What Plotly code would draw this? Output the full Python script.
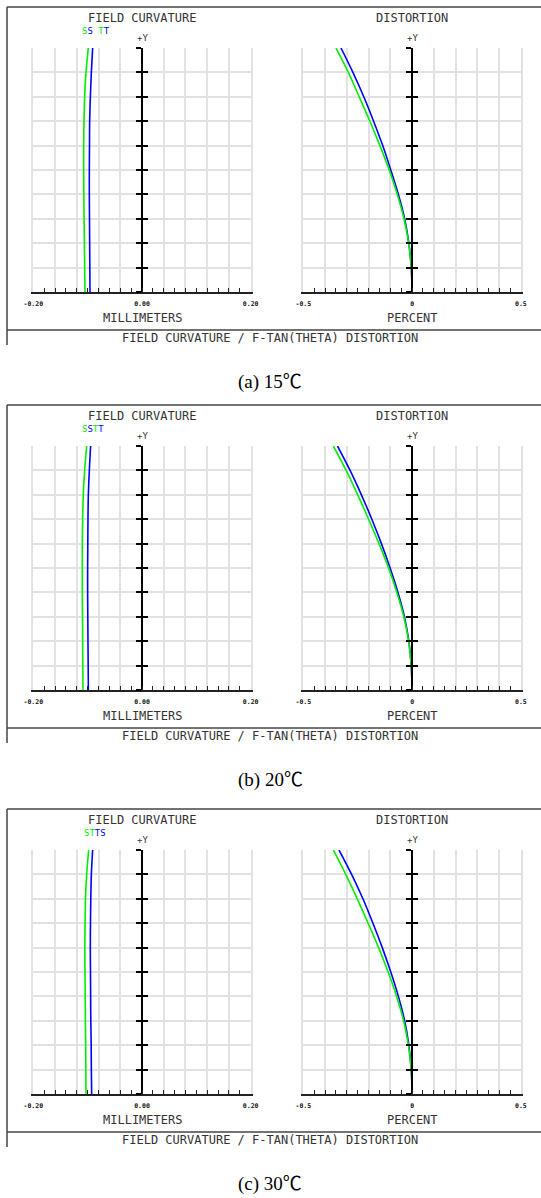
import plotly.graph_objects as go

W, H = 541, 1198

# ---------------- data ----------------
field = [0.0, 0.1, 0.2, 0.3, 0.4, 0.5, 0.6, 0.7, 0.8, 0.9, 1.0]  # relative +Y field

captions = ["(a) 15℃", "(b) 20℃", "(c) 30℃"]

# field curvature (mm): green and blue curves
fc_green_a = [-0.1049, -0.1055, -0.1060, -0.1066, -0.1070, -0.1073, -0.1073, -0.1067, -0.1055, -0.1030, -0.0988]
fc_blue_a = [-0.0957, -0.0960, -0.0963, -0.0966, -0.0969, -0.0969, -0.0966, -0.0963, -0.0950, -0.0932, -0.0908]
fc_green_b = [-0.1086, -0.1089, -0.1092, -0.1095, -0.1098, -0.1098, -0.1098, -0.1092, -0.1080, -0.1055, -0.1018]
fc_blue_b = [-0.0987, -0.0990, -0.0994, -0.0997, -0.1000, -0.1000, -0.0997, -0.0994, -0.0987, -0.0969, -0.0945]
fc_green_c = [-0.1030, -0.1033, -0.1036, -0.1042, -0.1045, -0.1049, -0.1052, -0.1047, -0.1040, -0.1018, -0.0981]
fc_blue_c = [-0.0926, -0.0932, -0.0935, -0.0942, -0.0945, -0.0948, -0.0951, -0.0948, -0.0942, -0.0932, -0.0908]

# f-tan(theta) distortion (%)
dist_green_a = [0, -0.004, -0.016, -0.037, -0.068, -0.105, -0.148, -0.194, -0.243, -0.293, -0.350]
dist_blue_a = [0, -0.004, -0.015, -0.034, -0.063, -0.098, -0.135, -0.177, -0.222, -0.272, -0.327]
dist_green_b = [0, -0.004, -0.016, -0.038, -0.070, -0.108, -0.152, -0.200, -0.250, -0.303, -0.362]
dist_blue_b = [0, -0.004, -0.015, -0.035, -0.065, -0.101, -0.141, -0.185, -0.233, -0.285, -0.343]
dist_green_c = [0, -0.004, -0.017, -0.039, -0.071, -0.110, -0.154, -0.202, -0.252, -0.305, -0.362]
dist_blue_c = [0, -0.004, -0.015, -0.034, -0.063, -0.098, -0.137, -0.180, -0.226, -0.278, -0.336]

fc_ticks = [round(-0.20 + 0.02 * i, 2) for i in range(21)]
fc_ticklabels = {-0.20: "-0.20", 0.0: "0.00", 0.20: "0.20"}
dist_ticks = [round(-0.5 + 0.05 * i, 2) for i in range(21)]
dist_ticklabels = {-0.5: "-0.5", 0.0: "0", 0.5: "0.5"}

fc_sets = [(fc_green_a, fc_blue_a), (fc_green_b, fc_blue_b), (fc_green_c, fc_blue_c)]
dist_sets = [(dist_green_a, dist_blue_a), (dist_green_b, dist_blue_b), (dist_green_c, dist_blue_c)]

GREEN = "#00ee00"
BLUE = "#0000ff"

# legend glyphs per panel: (letter, colour)
legend_glyphs = [
    [("S", GREEN), ("S", BLUE), (" ", GREEN), ("T", GREEN), ("T", BLUE)],
    [("S", GREEN), ("S", BLUE), ("T", GREEN), ("T", BLUE)],
    [("S", GREEN), ("T", GREEN), ("T", BLUE), ("S", BLUE)],
]
legend_x = [96, 93, 95]

GRID = "#e2e2e2"
TXT = "#333333"
MONO = "DejaVu Sans Mono"

offsets = [0, 398, 802]


def px(x):
    return x / W


def py(y):
    return 1 - y / H


fig = go.Figure()
layout = {}
annotations = []
shapes = []

ax_n = 0
extra_y = 6  # extra overlay y axes numbered after the 6 main ones

for p, off in enumerate(offsets):
    for kind in ("fc", "dist"):
        ax_n += 1
        xa = "x" if ax_n == 1 else f"x{ax_n}"
        ya = "y" if ax_n == 1 else f"y{ax_n}"
        xkey = "xaxis" if ax_n == 1 else f"xaxis{ax_n}"
        ykey = "yaxis" if ax_n == 1 else f"yaxis{ax_n}"
        if kind == "fc":
            x0, x1 = 33.3, 250.7
            rng = [-0.2, 0.2]
            gd = 0.04
            ticks, tlab = fc_ticks, fc_ticklabels
            green, blue = fc_sets[p]
        else:
            x0, x1 = 303.3, 520.9
            rng = [-0.5, 0.5]
            gd = 0.1
            ticks, tlab = dist_ticks, dist_ticklabels
            green, blue = dist_sets[p]
        ytop, ybot = 48 + off, 292 + off
        dom_x = [px(x0), px(x1)]
        dom_y = [py(ybot), py(ytop)]

        layout[xkey] = dict(
            domain=dom_x, range=rng, anchor=ya, automargin=False,
            showgrid=False,
            minor=dict(dtick=gd, tick0=rng[0], showgrid=True, gridcolor=GRID, gridwidth=1.5, ticks=""),
            tickmode="array", tickvals=ticks,
            ticktext=[tlab.get(t, "") for t in ticks],
            ticks="inside", ticklen=4, tickcolor="#222", tickwidth=1,
            showline=True, linecolor="#222", linewidth=1.5,
            zeroline=False,
            tickfont=dict(family=MONO, size=6.5, color="#111", weight="bold"),
            ticklabelstandoff=4, fixedrange=True,
        )

        layout[ykey] = dict(
            domain=dom_y, range=[0, 1], anchor=xa, automargin=False,
            showgrid=True, gridcolor=GRID, gridwidth=1.5, dtick=0.1, tick0=0,
            showticklabels=False, ticks="", zeroline=False,
            showline=True, linecolor=GRID, linewidth=1.5, mirror=True,
            fixedrange=True,
        )

        fig.add_trace(go.Scatter(x=blue, y=field, xaxis=xa, yaxis=ya, mode="lines",
                                 line=dict(color=BLUE, width=1.6, shape="spline"),
                                 showlegend=False, hoverinfo="skip"))
        fig.add_trace(go.Scatter(x=green, y=field, xaxis=xa, yaxis=ya, mode="lines",
                                 line=dict(color=GREEN, width=1.6, shape="spline"),
                                 showlegend=False, hoverinfo="skip"))

        # +Y axis at x=0 with tick marks on both sides (two overlaid free axes)
        frac0 = (0 - rng[0]) / (rng[1] - rng[0])
        pos = dom_x[0] + frac0 * (dom_x[1] - dom_x[0])
        for tk in ("outside", "inside"):
            extra_y += 1
            layout[f"yaxis{extra_y}"] = dict(
                domain=dom_y, range=[0, 1], overlaying=ya, anchor="free", position=pos,
                automargin=False,
                side="left", showgrid=False, zeroline=False, showticklabels=False,
                showline=True, linecolor="#000", linewidth=1.5,
                ticks=tk, ticklen=5.5, tickwidth=1.5, tickcolor="#000",
                tickmode="linear", dtick=0.1, tick0=0, fixedrange=True,
            )
            fig.add_trace(go.Scatter(x=[None], y=[None], xaxis=xa, yaxis=f"y{extra_y}",
                                     mode="lines", showlegend=False, hoverinfo="skip"))

        cx = (x0 + x1) / 2
        title = "FIELD CURVATURE" if kind == "fc" else "DISTORTION"
        annotations.append(dict(text=title, x=px(cx), y=py(18 + off), xref="paper", yref="paper",
                                showarrow=False, xanchor="center", yanchor="middle",
                                font=dict(family=MONO, size=12, color=TXT)))
        annotations.append(dict(text="+Y", x=px(cx), y=py(38 + off), xref="paper", yref="paper",
                                showarrow=False, xanchor="center", yanchor="middle",
                                font=dict(family=MONO, size=9, color=TXT)))
        unit = "MILLIMETERS" if kind == "fc" else "PERCENT"
        annotations.append(dict(text=unit, x=px(cx), y=py(318 + off), xref="paper", yref="paper",
                                showarrow=False, xanchor="center", yanchor="middle",
                                font=dict(family=MONO, size=12, color=TXT)))

    legend_text = "".join(f"<span style='color:{c}'>{g}</span>" for g, c in legend_glyphs[p])
    annotations.append(dict(text=legend_text, x=px(legend_x[p]), y=py(31 + off), xref="paper", yref="paper",
                            showarrow=False, xanchor="center", yanchor="middle",
                            font=dict(family=MONO, size=9, color=GREEN)))

    annotations.append(dict(text="FIELD CURVATURE / F-TAN(THETA) DISTORTION", x=px(270), y=py(338 + off),
                            xref="paper", yref="paper", showarrow=False, xanchor="center", yanchor="middle",
                            font=dict(family=MONO, size=12, color=TXT)))
    annotations.append(dict(text=captions[p], x=px(270), y=py(382 + off), xref="paper", yref="paper",
                            showarrow=False, xanchor="center", yanchor="middle",
                            font=dict(family="Liberation Serif, Noto Sans CJK SC", size=19, color="#000")))

    frame = dict(color="#444", width=1.5)
    shapes.append(dict(type="line", xref="paper", yref="paper", x0=px(7), x1=1, y0=py(7 + off), y1=py(7 + off), line=frame))
    shapes.append(dict(type="line", xref="paper", yref="paper", x0=px(7), x1=1, y0=py(330 + off), y1=py(330 + off), line=frame))
    shapes.append(dict(type="line", xref="paper", yref="paper", x0=px(7), x1=px(7), y0=py(7 + off), y1=py(345 + off), line=frame))

fig.update_layout(
    width=W, height=H, autosize=False,
    margin=dict(l=0, r=0, t=0, b=0, pad=0, autoexpand=False),
    paper_bgcolor="white", plot_bgcolor="white",
    annotations=annotations, shapes=shapes, showlegend=False,
    **layout,
)

fig.write_html("out.html", config={"displayModeBar": False, "responsive": False},
               post_script="document.body.style.margin='0';document.body.style.overflow='hidden';")
